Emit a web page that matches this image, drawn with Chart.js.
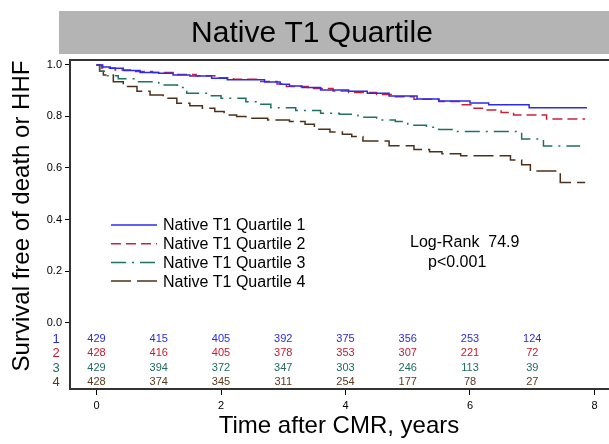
<!DOCTYPE html>
<html>
<head>
<meta charset="utf-8">
<script src="https://cdn.jsdelivr.net/npm/chart.js@4"></script>
<style>
  body { margin: 0; background: #fff; }
  canvas { display: block; }
</style>
</head>
<body>
<canvas id="kmChart" width="609" height="444"></canvas>
<script>
// survival curves (years, survival)
var q1Times = [0, 0.1, 0.22, 0.43, 0.7, 1.0, 1.23, 1.5, 1.85, 2.1, 2.7, 2.95, 3.1, 3.3, 3.6, 4.05, 4.35, 4.7, 5.15, 5.5, 6.0, 6.3, 6.95, 7.88];
var q1Surv  = [1.0, 0.992, 0.987, 0.978, 0.97, 0.968, 0.961, 0.957, 0.948, 0.942, 0.934, 0.925, 0.918, 0.912, 0.903, 0.898, 0.89, 0.879, 0.868, 0.86, 0.852, 0.845, 0.834, 0.834];

var q2Times = [0, 0.08, 0.3, 0.6, 0.9, 1.25, 1.6, 1.9, 2.2, 2.6, 2.9, 3.05, 3.4, 3.8, 4.05, 4.5, 4.75, 5.1, 5.5, 5.85, 6.05, 6.25, 6.5, 6.7, 7.23, 7.85];
var q2Surv  = [1.0, 0.988, 0.98, 0.974, 0.97, 0.963, 0.958, 0.95, 0.944, 0.936, 0.926, 0.916, 0.908, 0.899, 0.893, 0.885, 0.876, 0.867, 0.858, 0.845, 0.832, 0.825, 0.815, 0.806, 0.79, 0.79];

var q3Times = [0, 0.05, 0.15, 0.35, 0.65, 1.0, 1.3, 1.45, 1.8, 2.0, 2.4, 2.6, 2.8, 3.2, 3.6, 3.9, 4.2, 4.5, 4.8, 5.0, 5.3, 5.5, 5.75, 6.83, 7.18, 7.77];
var q3Surv  = [1.0, 0.975, 0.958, 0.946, 0.935, 0.922, 0.912, 0.89, 0.88, 0.871, 0.857, 0.847, 0.834, 0.823, 0.812, 0.808, 0.797, 0.786, 0.78, 0.766, 0.758, 0.749, 0.741, 0.712, 0.685, 0.685];

var q4Times = [0, 0.05, 0.11, 0.27, 0.43, 0.65, 0.86, 1.07, 1.29, 1.5, 1.7, 1.9, 2.05, 2.25, 2.4, 2.75, 3.1, 3.35, 3.5, 3.75, 3.95, 4.1, 4.28, 4.7, 5.1, 5.35, 5.55, 5.85, 6.65, 6.83, 6.97, 7.45, 7.85];
var q4Surv  = [1.0, 0.975, 0.961, 0.935, 0.916, 0.898, 0.883, 0.871, 0.851, 0.841, 0.832, 0.819, 0.806, 0.8, 0.793, 0.786, 0.78, 0.77, 0.75, 0.74, 0.731, 0.722, 0.705, 0.686, 0.672, 0.663, 0.655, 0.647, 0.631, 0.612, 0.588, 0.544, 0.544];

// numbers at risk
var riskTimes = [0, 1, 2, 3, 4, 5, 6, 7];
var riskQ1 = [429, 415, 405, 392, 375, 356, 253, 124];
var riskQ2 = [428, 416, 405, 378, 353, 307, 221, 72];
var riskQ3 = [429, 394, 372, 347, 303, 246, 113, 39];
var riskQ4 = [428, 374, 345, 311, 254, 177, 78, 27];

var groupLabels = ['Native T1 Quartile 1', 'Native T1 Quartile 2', 'Native T1 Quartile 3', 'Native T1 Quartile 4'];
var rowNames = ['1', '2', '3', '4'];
var xTicks = [0, 2, 4, 6, 8];
var yTicks = [0, 0.2, 0.4, 0.6, 0.8, 1.0];

var lineColors = ['#2b2bf0', '#cc2038', '#1d7262', '#4e3019'];
var numColors = ['#2a2ae0', '#c81a30', '#1d6e5e', '#5a3a1c'];

var FONT = '"Liberation Sans", Arial, sans-serif';

function toPoints(t, s) {
    return t.map(function (v, i) { return { x: v, y: s[i] }; });
}

// draws title band, y title, legend, stats text, top frame and the number-at-risk table
var extras = {
    id: 'extras',
    beforeDraw: function (chart) {
        var c = chart.ctx;
        c.save();
        c.fillStyle = '#b4b4b4';
        c.fillRect(59, 11, 550, 43);
        c.fillStyle = '#000';
        c.font = '30px ' + FONT;
        c.textAlign = 'center';
        c.textBaseline = 'middle';
        c.fillText('Native T1 Quartile', 312, 34);

        c.translate(22, 216);
        c.rotate(-Math.PI / 2);
        c.font = '24px ' + FONT;
        c.fillText('Survival free of death or HHF', 0, 0);
        c.restore();
    },
    afterDraw: function (chart) {
        var c = chart.ctx;
        var area = chart.chartArea;
        var xs = chart.scales.x;
        c.save();
        // top frame line
        c.strokeStyle = '#333';
        c.lineWidth = 2;
        c.beginPath();
        c.moveTo(area.left, area.top);
        c.lineTo(609, area.top);
        c.stroke();

        // legend
        c.font = '16px ' + FONT;
        c.textAlign = 'left';
        c.textBaseline = 'middle';
        chart.data.datasets.forEach(function (ds, i) {
            var y = 225 + i * 18.7;
            c.strokeStyle = ds.borderColor;
            c.lineWidth = 1.5;
            c.setLineDash(ds.borderDash || []);
            c.beginPath();
            c.moveTo(111, y);
            c.lineTo(157, y);
            c.stroke();
            c.setLineDash([]);
            c.fillStyle = '#000';
            c.fillText(ds.label, 163, y + 1);
        });

        c.fillText('Log-Rank  74.9', 410, 243);
        c.fillText('p<0.001', 428, 263);

        // number at risk
        var tables = [riskQ1, riskQ2, riskQ3, riskQ4];
        var rowY = [area.bottom - 50, area.bottom - 36, area.bottom - 21, area.bottom - 7];
        tables.forEach(function (row, r) {
            c.fillStyle = numColors[r];
            c.textAlign = 'center';
            c.font = '13px ' + FONT;
            c.fillText(rowNames[r], 56, rowY[r]);
            c.font = '11px ' + FONT;
            row.forEach(function (n, k) {
                c.fillText(String(n), xs.getPixelForValue(riskTimes[k]), rowY[r]);
            });
        });
        c.restore();
    }
};

var ctx = document.getElementById('kmChart').getContext('2d');
var kmChart = new Chart(ctx, {
    type: 'line',
    data: {
        datasets: [{
            label: groupLabels[0],
            data: toPoints(q1Times, q1Surv),
            borderColor: lineColors[0],
            borderWidth: 1.5
        }, {
            label: groupLabels[1],
            data: toPoints(q2Times, q2Surv),
            borderColor: lineColors[1],
            borderDash: [10, 5],
            borderWidth: 1.5
        }, {
            label: groupLabels[2],
            data: toPoints(q3Times, q3Surv),
            borderColor: lineColors[2],
            borderDash: [15, 6, 2, 6],
            borderWidth: 1.5
        }, {
            label: groupLabels[3],
            data: toPoints(q4Times, q4Surv),
            borderColor: lineColors[3],
            borderDash: [20, 6],
            borderWidth: 1.5
        }]
    },
    options: {
        responsive: false,
        animation: false,
        layout: { padding: { top: 60, right: 1, left: 0, bottom: 0 } },
        elements: { line: { stepped: 'before', fill: false }, point: { radius: 0 } },
        plugins: {
            legend: { display: false },
            title: { display: false },
            tooltip: { enabled: false }
        },
        scales: {
            x: {
                type: 'linear',
                min: -0.426,
                max: 8.217,
                afterFit: function (s) { s.height = 55; },
                afterBuildTicks: function (s) { s.ticks = xTicks.map(function (v) { return { value: v }; }); },
                border: { color: '#333', width: 2 },
                grid: { drawOnChartArea: false, tickLength: 6, color: '#000' },
                ticks: {
                    color: '#000',
                    padding: 4,
                    font: { size: 11, family: FONT },
                    callback: function (v) { return String(v); }
                },
                title: {
                    display: true,
                    text: 'Time after CMR, years',
                    color: '#000',
                    font: { size: 24, family: FONT },
                    padding: { top: 0, bottom: 3 }
                }
            },
            y: {
                min: -0.258,
                max: 1.019,
                afterFit: function (s) { s.width = 70; },
                afterBuildTicks: function (s) { s.ticks = yTicks.map(function (v) { return { value: v }; }); },
                border: { color: '#333', width: 2 },
                grid: { drawOnChartArea: false, tickLength: 5, color: '#000' },
                ticks: {
                    color: '#000',
                    padding: 3,
                    font: { size: 11, family: FONT },
                    callback: function (v) { return v.toFixed(1); }
                }
            }
        }
    },
    plugins: [extras]
});
</script>
</body>
</html>
